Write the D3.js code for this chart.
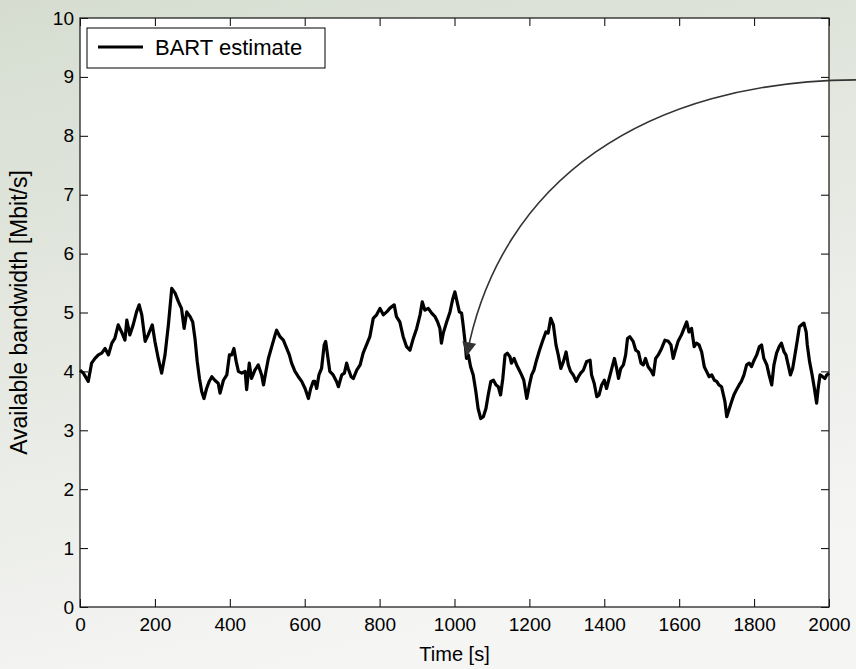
<html>
<script src='https://d3js.org/d3.v7.min.js'></script>
<style>
  body { margin: 0; }
  text { font-family: Arial, 'Liberation Sans', sans-serif; fill: #000; }
</style>
<body onload='init()'>
<svg width=856 height=669></svg>
<script>
// BART estimate (time in s, bandwidth in Mbit/s)
var time = [0,9,22,31,40,49,58,67,76,85,93,102,111,120,125,133,142,151,158,165,174,182,193,200,209,218,227,236,245,254,263,
  271,278,285,294,301,307,313,319,325,331,338,345,352,360,369,374,383,392,399,405,411,417,423,432,441,445,452,458,467,476,485,490,497,503,512,521,525,534,543,552,559,565,574,583,592,601,610,616,623,
  627,632,638,645,652,656,661,667,676,685,690,699,706,712,716,724,730,739,748,756,765,774,783,792,801,810,819,827,839,845,854,863,872,881,890,899,908,914,921,930,939,948,955,961,965,970,979,988,995,
  1001,1007,1013,1019,1023,1028,1032,1037,1043,1050,1057,1063,1070,1077,1084,1090,1097,1104,1111,1117,1123,1129,1135,1141,1148,1152,1159,1166,1173,1179,1185,1193,1200,1206,1212,1219,1227,1235,1244,1250,1257,1264,1271,1277,1284,1291,1298,1304,1310,1317,1325,1331,1337,1344,1353,
  1362,1366,1373,1380,1386,1393,1400,1406,1413,1420,1427,1433,1438,1444,1451,1457,1462,1468,1477,1484,1491,1498,1504,1510,1517,1524,1531,1537,1544,1553,1562,1571,1578,1584,1590,1597,1606,1613,1620,1626,1633,1640,1646,1653,1660,1667,1673,1680,1687,1694,1700,1706,1713,
  1722,1727,1734,1740,1746,1753,1760,1766,1773,1780,1787,1793,1800,1807,1814,1820,1826,1834,1840,1847,1853,1860,1867,1873,1880,1885,1891,1897,1903,1909,1915,1921,1927,1933,1939,1942,1948,1955,1961,1967,1971,1976,1983,1989,1994,2000];
var bandwidth = [4.02,3.97,3.83,4.14,4.22,4.28,4.31,4.39,4.28,4.48,4.56,4.79,4.67,4.53,4.87,4.62,4.79,5.01,5.13,4.96,4.51,4.62,4.79,4.51,4.22,3.97,4.28,4.79,5.41,5.33,5.18,
  5.07,4.73,5.01,4.93,4.84,4.56,4.17,3.88,3.66,3.54,3.71,3.83,3.91,3.85,3.80,3.63,3.85,3.94,4.28,4.28,4.39,4.17,4.00,3.97,4.00,3.69,4.14,3.88,4.02,4.11,3.94,3.77,4.02,4.22,4.42,4.62,4.70,4.59,4.53,4.39,4.28,4.14,4.00,3.91,3.83,3.71,3.54,3.71,3.83,
  3.83,3.71,3.94,4.05,4.45,4.51,4.28,4.00,3.94,3.83,3.74,3.94,3.97,4.14,4.05,3.91,3.88,4.02,4.11,4.31,4.45,4.59,4.90,4.96,5.07,4.96,5.01,5.07,5.13,4.93,4.84,4.59,4.42,4.36,4.56,4.73,4.96,5.18,5.04,5.07,4.99,4.93,4.84,4.73,4.48,4.65,4.84,5.01,5.22,
  5.35,5.18,5.01,4.99,4.79,4.51,4.22,4.28,4.08,3.94,3.66,3.37,3.20,3.23,3.37,3.60,3.83,3.85,3.77,3.74,3.60,3.88,4.28,4.31,4.25,4.14,4.22,4.11,4.02,3.94,3.85,3.54,3.77,3.94,4.02,4.19,4.36,4.51,4.67,4.65,4.90,4.79,4.45,4.28,4.05,4.17,4.33,4.11,4.00,3.94,3.83,3.91,3.97,4.02,4.17,
  4.19,3.94,3.80,3.57,3.60,3.77,3.85,3.71,3.88,4.05,4.22,4.05,3.88,4.05,4.11,4.28,4.56,4.59,4.51,4.36,4.33,4.14,4.11,4.22,4.08,4.02,3.94,4.22,4.28,4.39,4.53,4.51,4.45,4.22,4.36,4.51,4.62,4.73,4.84,4.67,4.73,4.42,4.48,4.45,4.33,4.08,4.00,3.91,3.94,3.85,3.83,3.77,3.74,
  3.49,3.23,3.37,3.49,3.60,3.69,3.77,3.83,3.94,4.11,4.14,4.08,4.19,4.28,4.42,4.45,4.22,4.11,3.94,3.77,4.11,4.31,4.42,4.48,4.33,4.28,4.11,3.94,4.05,4.28,4.51,4.76,4.79,4.82,4.67,4.45,4.17,3.94,3.71,3.46,3.71,3.94,3.91,3.88,3.94,3.97];
var xTicks = [0,200,400,600,800,1000,1200,1400,1600,1800,2000];
var yTicks = [0,1,2,3,4,5,6,7,8,9,10];
var seriesName = 'BART estimate';
// annotation arrow, in data units: start, two control points, tip
var arrowPts = [[2072,8.95],[1513,8.93],[1122,7.25],[1033,4.28]];

function init() {
  var width = 856, height = 669;
  var margin = {left: 80, right: 27, top: 18, bottom: 62};
  var w = width - margin.left - margin.right;
  var h = height - margin.top - margin.bottom;
  var svg = d3.select('svg');

  var defs = svg.append('defs');
  var grad = defs.append('linearGradient').attr('id', 'bg')
    .attr('x1', 0).attr('y1', 0).attr('x2', 0.3).attr('y2', 1);
  grad.append('stop').attr('offset', '0%').attr('stop-color', '#d6ddd0');
  grad.append('stop').attr('offset', '100%').attr('stop-color', '#f5f5f4');
  defs.append('marker').attr('id', 'head')
    .attr('viewBox', '0 0 10 10').attr('refX', 9).attr('refY', 5)
    .attr('markerWidth', 15).attr('markerHeight', 14).attr('markerUnits', 'userSpaceOnUse')
    .attr('orient', 'auto')
    .append('path').attr('d', 'M0,0L10,5L0,10z').attr('fill', '#333');

  svg.append('rect').attr('width', width).attr('height', height).attr('fill', 'url(#bg)');

  var x = d3.scaleLinear().domain([0, 2000]).range([0, w]);
  var y = d3.scaleLinear().domain([0, 10]).range([h, 0]);

  var g = svg.append('g').attr('transform', 'translate(' + margin.left + ',' + margin.top + ')');
  g.append('rect').attr('width', w).attr('height', h).attr('fill', '#fff');

  // axes, MATLAB style: ticks inward on all four sides
  function styleAxis(sel) {
    sel.select('.domain').remove();
    sel.selectAll('line').attr('stroke', '#000');
    sel.selectAll('text').style('font-size', '19px').attr('fill', '#000');
  }
  g.append('g').attr('transform', 'translate(0,' + h + ')')
    .call(d3.axisBottom(x).tickValues(xTicks).tickSize(-8).tickPadding(11).tickFormat(d3.format('d')))
    .call(styleAxis);
  g.append('g')
    .call(d3.axisTop(x).tickValues(xTicks).tickSize(-8).tickFormat(''))
    .call(styleAxis);
  g.append('g')
    .call(d3.axisLeft(y).tickValues(yTicks).tickSize(-8).tickPadding(6).tickFormat(d3.format('d')))
    .call(styleAxis);
  g.append('g').attr('transform', 'translate(' + w + ',0)')
    .call(d3.axisRight(y).tickValues(yTicks).tickSize(-8).tickFormat(''))
    .call(styleAxis);
  g.append('rect').attr('width', w).attr('height', h)
    .attr('fill', 'none').attr('stroke', '#222').attr('stroke-width', 1.3);

  var pts = time.map(function(t, i) { return [t, bandwidth[i]]; });
  var line = d3.line().x(function(d) { return x(d[0]); }).y(function(d) { return y(d[1]); });
  g.append('path').datum(pts).attr('d', line)
    .attr('fill', 'none').attr('stroke', '#000').attr('stroke-width', 3.2)
    .attr('stroke-linejoin', 'round');

  // annotation arrow
  var p = arrowPts.map(function(d) { return [x(d[0]), y(d[1])]; });
  var ap = d3.path();
  ap.moveTo(p[0][0], p[0][1]);
  ap.bezierCurveTo(p[1][0], p[1][1], p[2][0], p[2][1], p[3][0], p[3][1]);
  g.append('path').attr('d', ap.toString())
    .attr('fill', 'none').attr('stroke', '#333').attr('stroke-width', 1.6)
    .attr('marker-end', 'url(#head)');

  // legend
  var lg = g.append('g').attr('transform', 'translate(7,10)');
  lg.append('rect').attr('width', 238).attr('height', 40)
    .attr('fill', '#fff').attr('stroke', '#000').attr('stroke-width', 1);
  lg.append('line').attr('x1', 11).attr('x2', 56).attr('y1', 19).attr('y2', 19)
    .attr('stroke', '#000').attr('stroke-width', 3);
  lg.append('text').attr('x', 68).attr('y', 27).style('font-size', '22px').text(seriesName);

  // axis titles
  svg.append('text').attr('x', margin.left + w / 2).attr('y', height - 8)
    .attr('text-anchor', 'middle').style('font-size', '20px').text('Time [s]');
  svg.append('text').attr('transform', 'translate(27,' + (margin.top + h / 2) + ') rotate(-90)')
    .attr('text-anchor', 'middle').style('font-size', '23px').text('Available bandwidth [Mbit/s]');
}
</script>
</body>
</html>
